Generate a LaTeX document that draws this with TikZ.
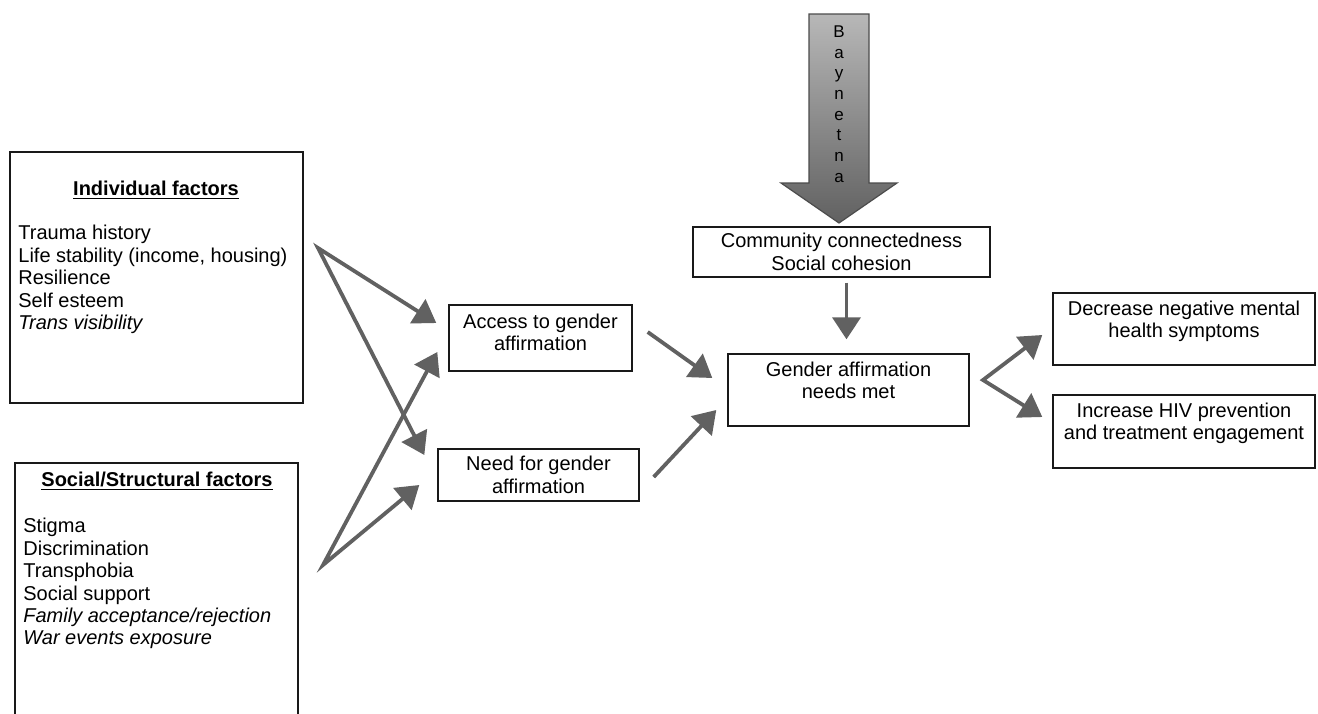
\documentclass[tikz,border=0pt]{standalone}
\usepackage{fontspec}
\setmainfont{Liberation Sans}
\usetikzlibrary{arrows.meta,calc,positioning}
\definecolor{ArrowClr}{rgb}{0.38,0.38,0.38}
\definecolor{BoxClr}{rgb}{0.1,0.1,0.1}
\definecolor{BigTopClr}{rgb}{0.72,0.72,0.72}
\definecolor{BigBotClr}{rgb}{0.38,0.38,0.38}

\begin{document}
\begin{tikzpicture}[x=0.5pt,y=-0.5pt,font=\fontsize{10}{11.2}\selectfont]
\tikzset{box/.style={draw=BoxClr,line width=0.7pt,align=center,inner sep=0pt},
  list/.style={align=left,inner sep=0pt,anchor=north west},
  flow/.style={draw=ArrowClr,line width=1.9pt,-{Triangle[width=14pt,length=11pt]}},
  forkflow/.style={draw=ArrowClr,line width=1.9pt,line join=miter,{Triangle[width=14pt,length=11pt]}-{Triangle[width=14pt,length=11pt]}}}
\clip (0,0) rectangle (1318,713);

\node[box,minimum width=146.5pt,minimum height=125.5pt] (Indiv) at (156.5,277.5) {};
\node (IndivTitle) at (156,190) {\textbf{\underline{Individual factors}}};
\node[list] (IndivList) at (18,225) {Trauma history\\Life stability (income, housing)\\Resilience\\Self esteem\\\textit{Trans visibility}};

\node[box,minimum width=141.5pt,minimum height=140pt] (Social) at (156.5,603) {};
\node (SocialTitle) at (157,481) {\textbf{\underline{Social/Structural factors}}};
\node[list] (SocialList) at (23,518) {Stigma\\Discrimination\\Transphobia\\Social support\\\textit{Family acceptance/rejection}\\\textit{War events exposure}};

\node[box,minimum width=91.5pt,minimum height=33pt,text depth=5.5pt] (Access) at (540.5,338) {Access to gender\\affirmation};
\node[box,minimum width=100.5pt,minimum height=26pt] (Need) at (538.5,475) {Need for gender\\affirmation};
\node[box,minimum width=120.5pt,minimum height=36pt,text depth=9.5pt] (Gender) at (848.5,390) {Gender affirmation\\needs met};
\node[box,minimum width=148.5pt,minimum height=25pt] (Community) at (841.5,252) {Community connectedness\\Social cohesion};
\node[box,minimum width=131pt,minimum height=36pt,text depth=10pt] (Decrease) at (1184,329) {Decrease negative mental\\health symptoms};
\node[box,minimum width=131pt,minimum height=36.5pt,text depth=10.5pt] (Increase) at (1184,431.5) {Increase HIV prevention\\and treatment engagement};

\draw[draw=gray!60!black,line width=0.6pt,top color=BigTopClr,bottom color=BigBotClr] (809,14) -- (869,14) -- (869,183) -- (897,183) -- (839,223) -- (781,183) -- (809,183) -- cycle;
\node[font=\fontsize{8.5}{10.35}\selectfont,align=center,inner sep=0pt] (Baynetna) at (839,104) {B\\a\\y\\n\\e\\t\\n\\a};

\coordinate (IndivFork) at (318,248);
\coordinate (SocialFork) at (323,565);
\coordinate (OutFork) at (983,380);

\draw[forkflow] ($(Access.west)+(-12,-15)$) -- (IndivFork) -- ($(Need.west)+(-13,-20)$);
\draw[forkflow] ($(Access.west)+(-11,14)$) -- (SocialFork) -- ($(Need.west)+(-18,10)$);
\draw[flow] ($(Access.east)+(15,-6)$) -- ($(Gender.west)+(-15,-12)$);
\draw[flow] ($(Need.east)+(14,2)$) -- ($(Gender.west)+(-11,20)$);
\draw[flow] ($(Community.south)+(5,5)$) -- ($(Gender.north)+(-2,-14)$);
\draw[forkflow] ($(Decrease.west)+(-10,6)$) -- (OutFork) -- ($(Increase.west)+(-10,-14.5)$);

\end{tikzpicture}
\end{document}
